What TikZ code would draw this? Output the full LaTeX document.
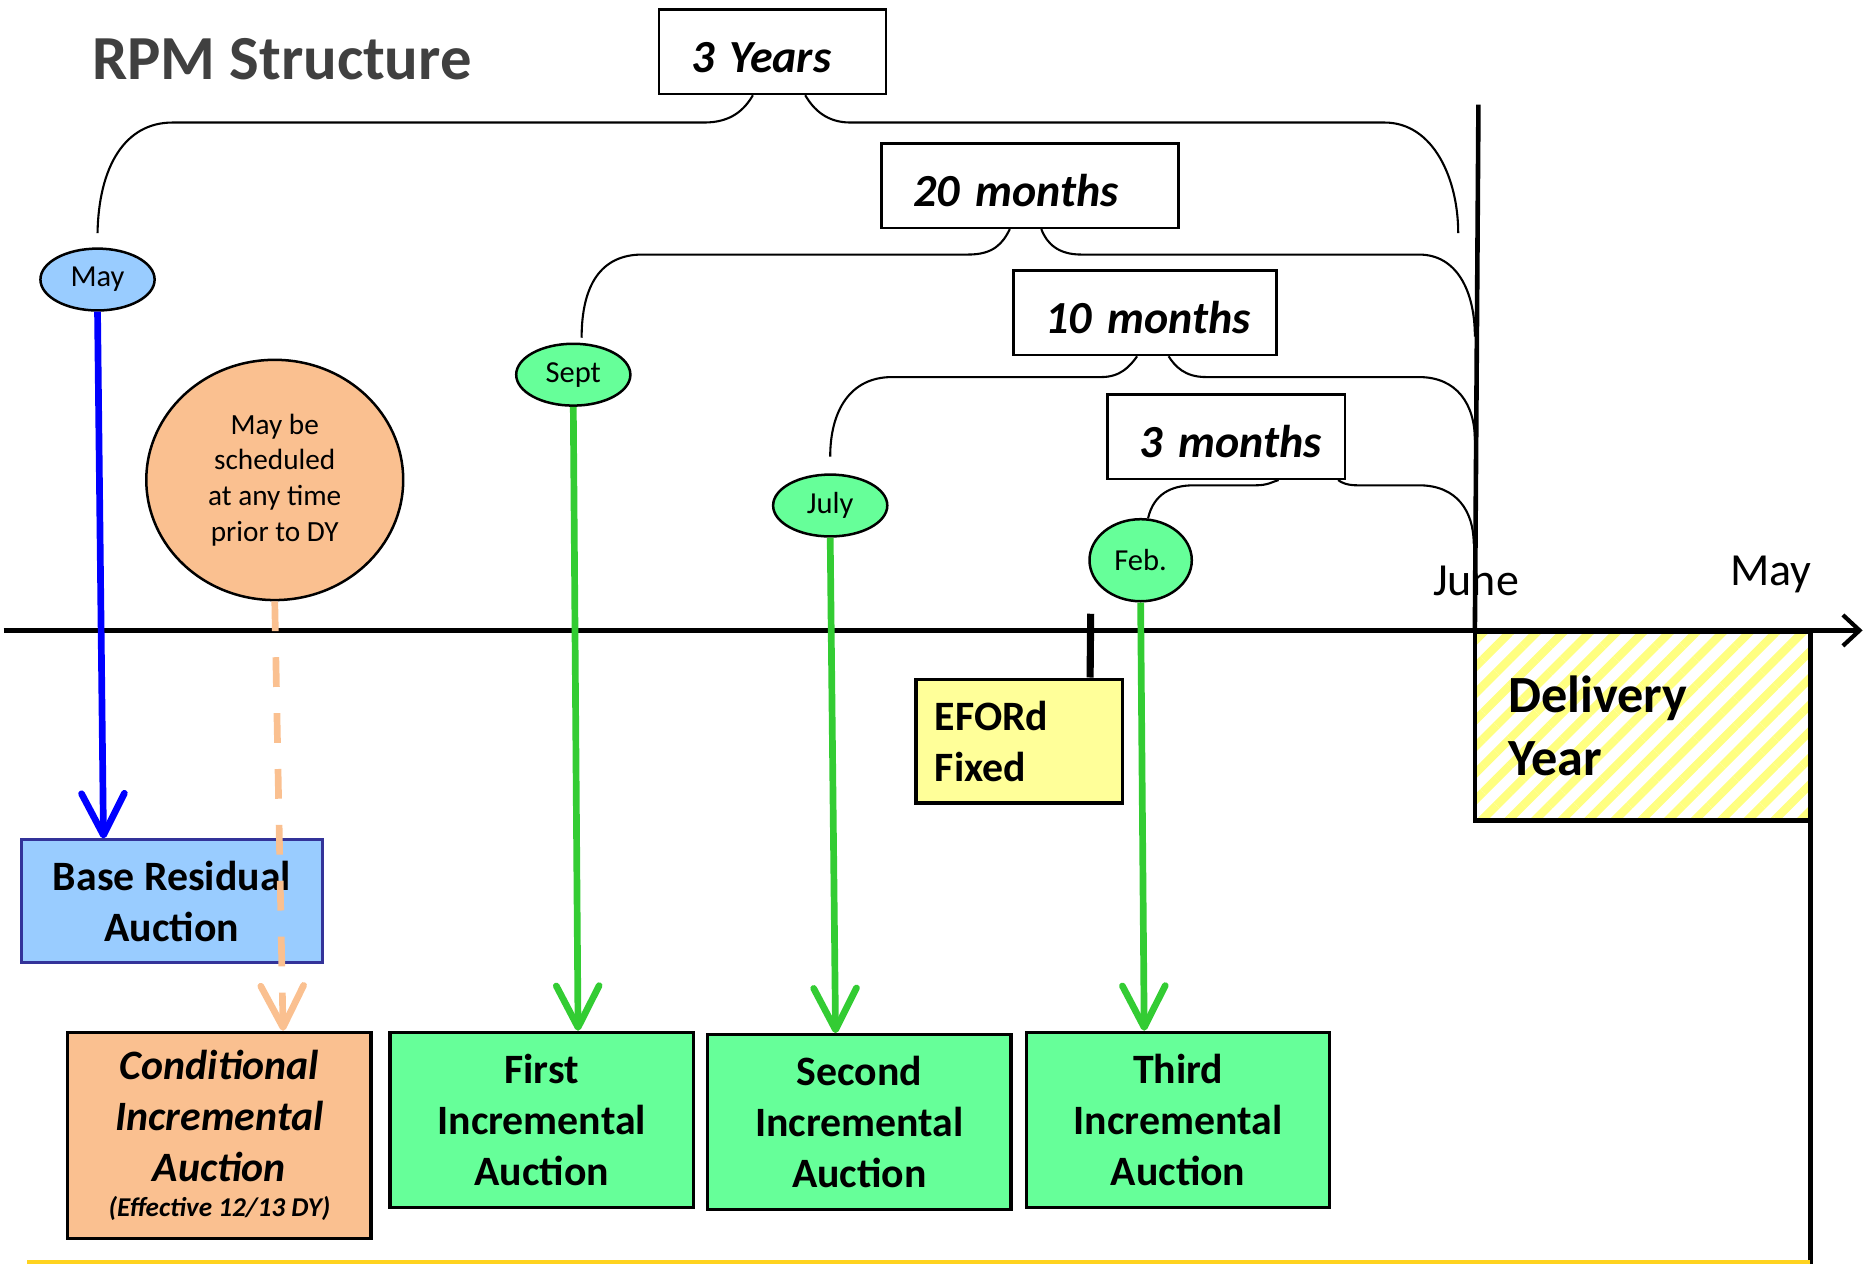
\documentclass[tikz,border=0pt]{standalone}
\usepackage{fontspec}
\setmainfont{Carlito}
\usetikzlibrary{shapes.geometric,arrows.meta,patterns.meta}
\definecolor{lightblue}{HTML}{99CCFF}
\definecolor{peach}{HTML}{FAC090}
\definecolor{mint}{HTML}{66FF99}
\definecolor{grassgreen}{HTML}{33CC33}
\definecolor{paleyellow}{HTML}{FFFF99}
\definecolor{stripeyellow}{HTML}{FFFF80}
\definecolor{titlegray}{HTML}{404040}
\definecolor{navyedge}{HTML}{333399}
\definecolor{gold}{HTML}{FFD320}
\tikzset{
  month/.style={ellipse, draw, line width=0.6pt, inner sep=0pt, minimum width=9.6mm, minimum height=5.2mm, font=\fontsize{7.3}{9}\selectfont},
  auction/.style={rectangle, draw, line width=0.8pt, minimum width=25.5mm, minimum height=14.7mm, align=center, font=\fontsize{10}{12.2}\selectfont\bfseries},
  spanbox/.style={rectangle, draw, line width=0.6pt, minimum height=7.1mm, inner xsep=0pt, text width=#1, text height=10pt, text depth=0pt, align=left, execute at begin node=\hspace*{2.7mm}, font=\fontsize{11}{13}\selectfont\bfseries\itshape},
  brace/.style={line width=0.5pt},
  feed/.style={line width=1.6pt, -{Straight Barb[length=3.5mm,width=3.6mm,round]}}
}

\begin{document}
\begin{tikzpicture}[x=0.1mm, y=-0.1mm]
\useasboundingbox (0,0) rectangle (1568,1063);

\node[font=\fontsize{15}{18}\selectfont\bfseries, text=titlegray] (title) at (237,50) {RPM Structure};

\node[spanbox=19.1mm] (yrs) at (649.5,43.5) {3 Years};
\node[spanbox=25mm] (twenty) at (866,156) {20 months};
\node[spanbox=22.1mm] (ten) at (962.5,263) {10 months};
\node[spanbox=20mm] (three) at (1031,367) {3 months};

\node[month, fill=lightblue] (may) at (82,235) {May};
\node[month, fill=mint] (sept) at (482,315) {Sept};
\node[month, fill=mint] (july) at (698,425) {July};
\node[month, fill=mint, minimum width=8.6mm, minimum height=6.9mm] (feb) at (959,471) {Feb.};
\node[ellipse, draw, fill=peach, line width=0.6pt, minimum width=21.6mm, minimum height=20.2mm, inner sep=0pt, align=center, font=\fontsize{7}{8.5}\selectfont] (sched) at (231,403.5) {May be\\scheduled\\at any time\\prior to DY};

\coordinate (axl) at (3,530);
\coordinate (axr) at (1566,530);
\coordinate (junetop) at (1243,88);
\coordinate (tick) at (917,516);
\coordinate (dyfoot) at (1522,1063);
\coordinate (rimL) at (23,1061);
\coordinate (rimR) at (1522,1061);
\coordinate (end3y) at (1226,196);
\coordinate (end20) at (1240,283);
\coordinate (end10) at (1240,370);
\coordinate (end3m) at (1239,457);

\draw[brace] ([yshift=1.2mm]may.north) .. controls (83,140) and (105,103) .. (145,103) -- (592,103) .. controls (615,103) and (626,92) .. ([xshift=-1.65mm]yrs.south);
\draw[brace] ([xshift=2.75mm]yrs.south) .. controls (684,92) and (695,103) .. (715,103) -- (1164,103) .. controls (1205,103) and (1226,150) .. (end3y);
\draw[brace] ([xshift=0.7mm,yshift=0.4mm]sept.north) .. controls (489,240) and (505,214) .. (540,214) -- (814,214) .. controls (835,214) and (843,205) .. ([xshift=-1.7mm]twenty.south);
\draw[brace] ([xshift=0.95mm]twenty.south) .. controls (880,205) and (890,214) .. (909,214) -- (1193,214) .. controls (1225,214) and (1240,245) .. (end20);
\draw[brace] ([yshift=1.4mm]july.north) .. controls (698,345) and (715,317) .. (750,317) -- (926,317) .. controls (942,317) and (950,308) .. ([xshift=-0.65mm]ten.south);
\draw[brace] ([xshift=2mm]ten.south) .. controls (988,308) and (996,317) .. (1014,317) -- (1193,317) .. controls (1225,317) and (1240,340) .. (end10);
\draw[brace] (feb.80) .. controls (970,415) and (985,408) .. (1004,408) -- (1056,408) .. controls (1066,408) and (1070,405) .. ([xshift=4.4mm]three.south);
\draw[brace] ([xshift=9.4mm]three.south) .. controls (1128,406) and (1133,408) .. (1141,408) -- (1193,408) .. controls (1225,408) and (1239,430) .. (end3m);

\node[auction, fill=lightblue, draw=navyedge, line width=0.6pt, minimum width=25.3mm, minimum height=10.3mm] (bra) at (144.5,757.5) {Base Residual\\Auction};
\node[auction, fill=peach, minimum height=17.3mm, font=\fontsize{10}{12.2}\selectfont\bfseries\itshape] (cia) at (184.5,954.5) {Conditional\\Incremental\\Auction\\[-4pt]{\fontsize{6.5}{8}\selectfont (Effective 12/13 DY)}};
\node[auction, fill=mint] (fia) at (455.5,941.5) {First\\Incremental\\Auction};
\node[auction, fill=mint] (sia) at (722.5,943.5) {Second\\Incremental\\Auction};
\node[auction, fill=mint] (tia) at (990.5,941.5) {Third\\Incremental\\Auction};
\node[auction, fill=paleyellow, minimum width=17.4mm, minimum height=10.4mm, text width=14.2mm, inner xsep=1.6mm, align=left] (eford) at (857,623) {EFORd\\Fixed};
\node[draw, line width=1.1pt, outer sep=0pt, pattern={Lines[angle=45,distance=4.5pt,line width=2pt]}, pattern color=stripeyellow, minimum width=28.2mm, minimum height=15.9mm, text width=22.6mm, inner xsep=2.8mm, align=left, font=\fontsize{12.5}{15}\selectfont\bfseries] (dy) at (1381,610.5) {Delivery\\Year};

\node[font=\fontsize{11}{13}\selectfont] (june) at (1241,488) {June};
\node[font=\fontsize{11}{13}\selectfont] (mayend) at (1489,483) {May};

\draw[line width=1pt, -{Straight Barb[length=1.4mm,width=2.6mm]}] (axl) -- (axr);
\draw[line width=1.1pt] (junetop) -- (dy.north west);
\draw[line width=1.1pt] (dy.north east) -- (dy.north east |- dyfoot);
\draw[line width=1.7pt] (tick) -- ([xshift=5.95mm]eford.north);
\draw[gold, line width=0.8pt] (rimL) -- (rimR);

\draw[feed, blue] (may.south) -- ([xshift=-5.75mm]bra.north);
\draw[feed, grassgreen] (sept.south) -- ([xshift=3.05mm]fia.north);
\draw[feed, grassgreen] (july.south) -- ([xshift=-2mm]sia.north);
\draw[feed, grassgreen] (feb.south) -- ([xshift=-2.85mm]tia.north);
\draw[feed, peach, dash pattern=on 2.5mm off 2.2mm] (sched.south) -- ([xshift=5.35mm]cia.north);
\end{tikzpicture}
\end{document}
